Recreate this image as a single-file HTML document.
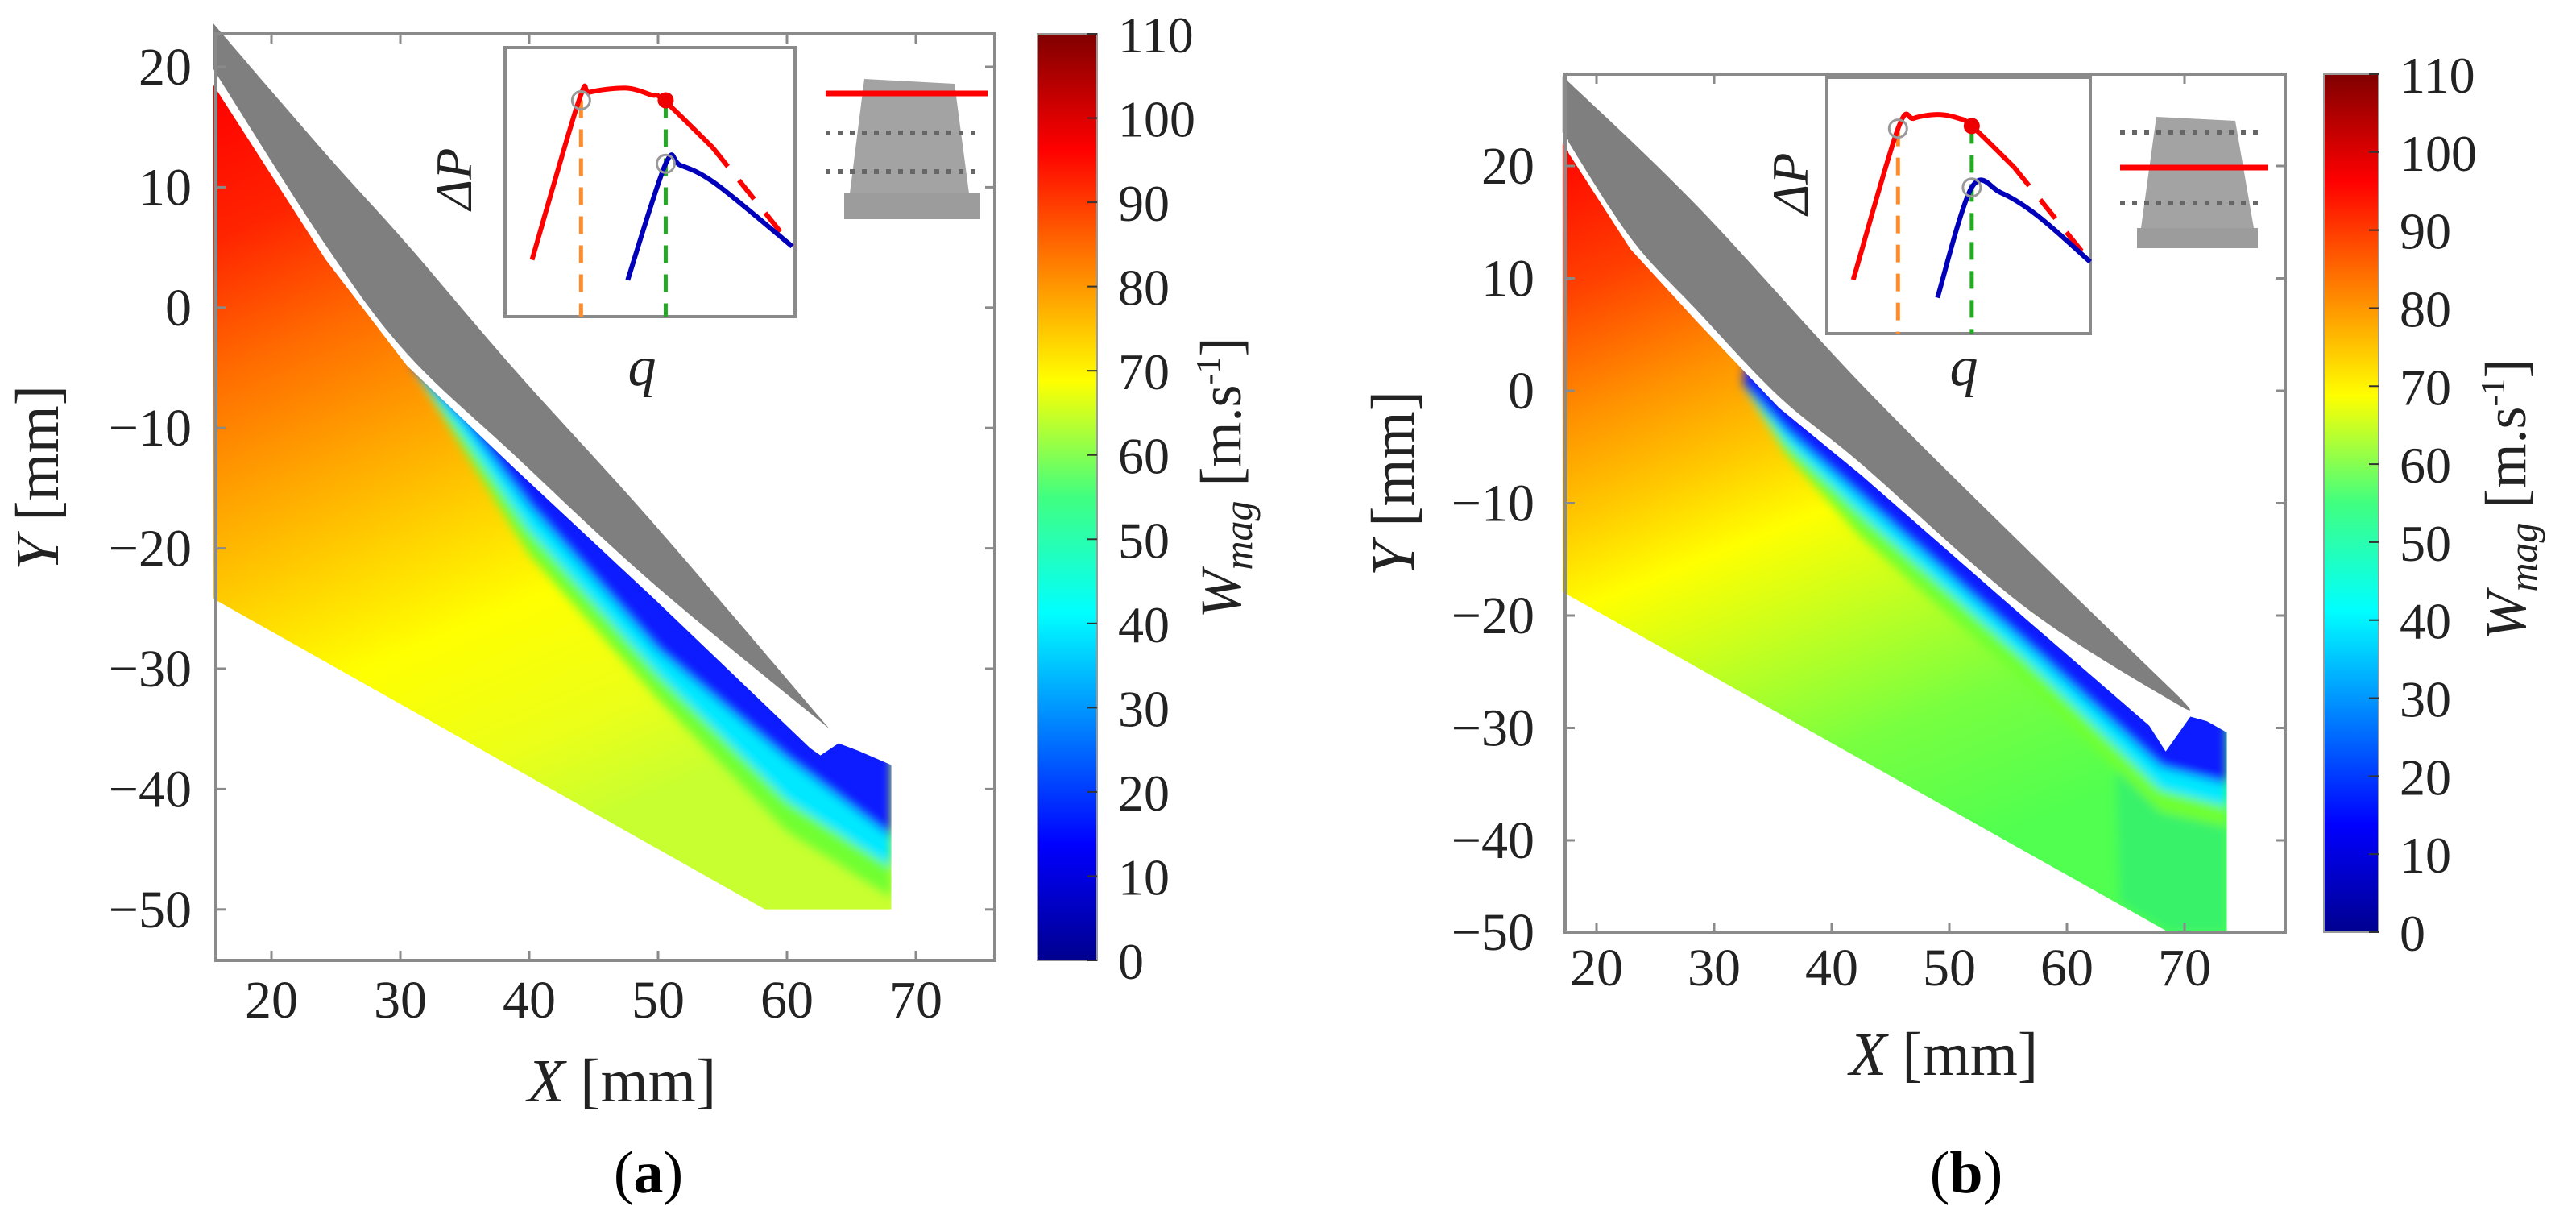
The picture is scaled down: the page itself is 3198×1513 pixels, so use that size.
<!DOCTYPE html>
<html><head><meta charset="utf-8"><style>
html,body{margin:0;padding:0;background:#fff}
svg{display:block}
svg text{font-family:"Liberation Serif","Times New Roman",serif}
</style></head><body>
<svg id="fig" width="3198" height="1513" viewBox="0 0 3198 1513" xmlns="http://www.w3.org/2000/svg" font-family="Liberation Serif, serif">
<defs>
<linearGradient id="jet" x1="0" y1="1" x2="0" y2="0">
<stop offset="0" stop-color="#00008f"/><stop offset="0.125" stop-color="#0000ff"/><stop offset="0.375" stop-color="#00ffff"/><stop offset="0.5" stop-color="#40ff80"/><stop offset="0.625" stop-color="#ffff00"/><stop offset="0.875" stop-color="#ff0000"/><stop offset="1" stop-color="#800000"/>
</linearGradient>
<filter id="blur" x="-20%" y="-20%" width="140%" height="140%"><feGaussianBlur stdDeviation="6"/></filter>
</defs>
</svg>
<script>
// ---- data arrays ----
const xTicksA=[20,30,40,50,60,70];
const yTicksA=[20,10,0,-10,-20,-30,-40,-50];
const xTicksB=[20,30,40,50,60,70];
const yTicksB=[20,10,0,-10,-20,-30,-40,-50];
const cbarTicks=[0,10,20,30,40,50,60,70,80,90,100,110];
// panel a geometry (mm)
const bladeUpperA=[[15.5,23.6],[24.2,12.8],[30.5,5.3],[38.9,-5.2],[49.7,-18],[63.3,-35]];
const bladeLowerA=[[63.3,-35],[49.7,-23],[38.9,-12.3],[30.5,-3.8],[24.2,5.2],[15.5,19.8]];
const fieldA=[[15.5,18.5],[24.2,4],[30.5,-4.8],[38.9,-13.4],[49.7,-24.2],[61.8,-36.6],[62.6,-37.2],[64,-36.2],[65.5,-36.8],[68.1,-38],[68.1,-50],[58.3,-50],[15.5,-24.2]];
const wakeXA=[31,35,40,50,60,68.1];
const wakeBlueA=[-5,-9.5,-16.5,-28.5,-37.5,-44];
const wakeCyanA=[-5,-10.8,-18.5,-30.5,-41,-46.5];
const wakeGreenA=[-5,-12,-20.5,-32.5,-43.5,-49];
// panel b geometry (mm)
const bladeUpperB=[[17.1,28],[28.5,16.5],[42.5,0.6],[56.5,-14],[69.8,-27.5]];
const bladeLowerB=[[69.8,-27.5],[69.4,-27.9],[56.5,-19.3],[42.5,-6.5],[35.5,-0.5],[28.5,7.2],[22.9,13.6],[17.1,23]];
const fieldB=[[17.1,22],[22.9,12.6],[28.5,6.2],[35.5,-1.5],[42.5,-7.5],[56.5,-20.3],[67,-29.8],[68.4,-32.1],[70.5,-29],[71.9,-29.4],[73.6,-30.4],[73.6,-48.2],[68.7,-48.2],[17.1,-17.9]];
const wakeXB=[32.5,36,42.5,56.5,68,73.6];
const wakeBlueB=[0.5,-3.5,-9.5,-22.5,-33.5,-35];
const wakeCyanB=[0.5,-4.5,-11,-24,-35.5,-37];
const wakeGreenB=[0.5,-5.5,-13,-26,-37.5,-38.8];
const greenZoneB=[[64,-27],[73.6,-30],[73.6,-48.2],[68.7,-48.2],[64.5,-45.5]];
// inset curves (fractions of inset box)
const insetRedA=[[0.093,0.789],[0.255,0.196],[0.293,0.166],[0.417,0.151],[0.504,0.176],[0.548,0.196],[0.716,0.372]];
const insetRedDashA=[[0.716,0.372],[0.99,0.739]];
const insetBlueA=[[0.423,0.864],[0.554,0.432],[0.604,0.437],[0.729,0.508],[0.99,0.739]];
const insetRedB=[[0.1,0.79],[0.27,0.2],[0.33,0.16],[0.42,0.145],[0.5,0.16],[0.55,0.19],[0.71,0.35]];
const insetRedDashB=[[0.71,0.35],[1.0,0.72]];
const insetBlueB=[[0.42,0.86],[0.55,0.43],[0.66,0.45],[0.8,0.54],[1.0,0.72]];

const NS="http://www.w3.org/2000/svg";
const svg=document.getElementById('fig');
function el(tag,attrs,parent){const e=document.createElementNS(NS,tag);for(const k in attrs)e.setAttribute(k,attrs[k]);if(tag==='text')e.setAttribute('font-family','Liberation Serif, serif');(parent||svg).appendChild(e);return e;}
function smooth(P){ // Catmull-Rom open path
  let d='M'+P[0][0].toFixed(1)+','+P[0][1].toFixed(1);
  for(let i=0;i<P.length-1;i++){
    const p0=P[Math.max(i-1,0)],p1=P[i],p2=P[i+1],p3=P[Math.min(i+2,P.length-1)];
    const c1=[p1[0]+(p2[0]-p0[0])/6,p1[1]+(p2[1]-p0[1])/6];
    const c2=[p2[0]-(p3[0]-p1[0])/6,p2[1]-(p3[1]-p1[1])/6];
    d+=' C'+c1.map(v=>v.toFixed(1)).join(',')+' '+c2.map(v=>v.toFixed(1)).join(',')+' '+p2[0].toFixed(1)+','+p2[1].toFixed(1);
  }
  return d;
}

function panel(cfg){
  const X=v=>cfg.px0+(v-cfg.xref)*cfg.sx;
  const Y=v=>cfg.py0+(cfg.yref-v)*cfg.sy;
  const pts=a=>a.map(p=>X(p[0]).toFixed(1)+','+Y(p[1]).toFixed(1)).join(' ');
  const PX=a=>a.map(p=>[X(p[0]),Y(p[1])]);
  const g=el('g',{});
  
  
  const defs=svg.querySelector('defs');
  const lg=el('linearGradient',{id:cfg.name+'bg',gradientUnits:'userSpaceOnUse',x1:X(cfg.gv[0]),y1:Y(cfg.gv[1]),x2:X(cfg.gv[2]),y2:Y(cfg.gv[3])},defs);
  cfg.stops.forEach(s=>el('stop',{offset:s[0],'stop-color':s[1]},lg));
  const cp=el('clipPath',{id:cfg.name+'clip'},defs);
  el('polygon',{points:pts(cfg.field)},cp);
  const fg=el('g',{'clip-path':'url(#'+cfg.name+'clip)'},g);
  
  
  el('polygon',{points:pts(cfg.field),fill:'url(#'+cfg.name+'bg)'},fg);
  const bl=el('g',{filter:'url(#blur)'},fg);
  if(cfg.extra){const z=el('polygon',{points:pts(cfg.extra),fill:'#38f26a'},bl);}
  const bands=[[cfg.wg,'#70ff30'],[cfg.wc,'#00e8ff'],[cfg.wb,'#0a1cff']];
  bands.forEach(b=>{
    const lower=cfg.wx.map((x,i)=>[x,b[0][i]]);
    const upper=cfg.wx.map((x,i)=>[x,b[0][i]+25]).reverse();
    upper[upper.length-1]=[cfg.wx[0],b[0][0]+0.5];
    const p=el('polygon',{points:pts(lower.concat(upper)),fill:b[1]},bl);
    
    
  });
  const up=PX(cfg.bu), lo=PX(cfg.bl);
  const bd=smooth(up)+' '+smooth(lo).replace(/^M/,'L')+' Z';
  const blade=el('path',{d:bd,fill:'#7f7f7f'},g);
  
  
  const bx=el('rect',{x:cfg.box[0],y:cfg.box[1],width:cfg.box[2]-cfg.box[0],height:cfg.box[3]-cfg.box[1],fill:'none',stroke:'#8a8a8a','stroke-width':4},g);
  
  
  cfg.xt.forEach(t=>{
    const x=X(t);
    el('line',{x1:x,x2:x,y1:cfg.box[3],y2:cfg.box[3]-12,stroke:'#8a8a8a','stroke-width':3},g);
    el('line',{x1:x,x2:x,y1:cfg.box[1],y2:cfg.box[1]+12,stroke:'#8a8a8a','stroke-width':3},g);
    const tx=el('text',{x:x,y:cfg.xlabY,'font-size':66,'text-anchor':'middle',fill:'#222'},g);
    
    
    tx.textContent=t;
  });
  cfg.yt.forEach(t=>{
    const y=Math.min(Y(t),cfg.box[3]);
    el('line',{x1:cfg.box[0],x2:cfg.box[0]+12,y1:y,y2:y,stroke:'#8a8a8a','stroke-width':3},g);
    el('line',{x1:cfg.box[2],x2:cfg.box[2]-12,y1:y,y2:y,stroke:'#8a8a8a','stroke-width':3},g);
    const tx=el('text',{x:cfg.ylabX,y:y+22,'font-size':66,'text-anchor':'end',fill:'#222'},g);
    
    
    tx.textContent=(t<0?'\u2212'+(-t):t);
  });
  const xt=el('text',{x:cfg.xTitle[0],y:cfg.xTitle[1],'font-size':76,'text-anchor':'middle',fill:'#222'},g);
  
  
  xt.innerHTML='<tspan font-style="italic">X</tspan> [mm]';
  const yt=el('text',{x:0,y:0,'font-size':76,'text-anchor':'middle',fill:'#222',transform:'translate('+cfg.yTitle[0]+','+cfg.yTitle[1]+') rotate(-90)'},g);
  
  
  yt.innerHTML='<tspan font-style="italic">Y</tspan> [mm]';
  const cb=cfg.cb;
  const cr=el('rect',{x:cb[0],y:cb[1],width:cb[2]-cb[0],height:cb[3]-cb[1],fill:'url(#jet)',stroke:'#999','stroke-width':2},g);
  
  
  const C=v=>cb[3]-(v/110)*(cb[3]-cb[1]);
  cbarTicks.forEach(t=>{
    const y=C(t);
    el('line',{x1:cb[2]-12,x2:cb[2],y1:y,y2:y,stroke:'#333','stroke-width':2},g);
    const tx=el('text',{x:cb[2]+26,y:y+23,'font-size':64,fill:'#222'},g);
    
    
    tx.textContent=t;
  });
  const ct=el('text',{x:0,y:0,'font-size':72,'text-anchor':'middle',fill:'#222',transform:'translate('+cfg.cTitle[0]+','+cfg.cTitle[1]+') rotate(-90)'},g);
  
  
  ct.innerHTML='<tspan font-style="italic">W</tspan><tspan font-style="italic" font-size="50" dy="14">mag</tspan><tspan dy="-14"> [m.s</tspan><tspan font-size="42" dy="-26">-1</tspan><tspan dy="26">]</tspan>';
  const ib=cfg.inset;const iw=ib[2]-ib[0],ih=ib[3]-ib[1];
  const IP=a=>a.map(p=>(ib[0]+p[0]*iw).toFixed(1)+','+(ib[1]+p[1]*ih).toFixed(1)).join(' ');
  const ig=el('g',{},g);
  
  
  el('rect',{x:ib[0],y:ib[1],width:iw,height:ih,fill:'#fff',stroke:'#8a8a8a','stroke-width':4},ig);
  const ox=ib[0]+cfg.iv[0]*iw, gx=ib[0]+cfg.iv[1]*iw;
  el('line',{x1:ox,x2:ox,y1:ib[1]+cfg.ir[1][1]*ih,y2:ib[3],stroke:'#ff8c2a','stroke-width':5,'stroke-dasharray':'22 14'},ig);
  el('line',{x1:gx,x2:gx,y1:ib[1]+cfg.ir[5][1]*ih,y2:ib[3],stroke:'#22aa22','stroke-width':5,'stroke-dasharray':'22 14'},ig);
  el('path',{d:smooth(cfg.ir.map(p=>[ib[0]+p[0]*iw,ib[1]+p[1]*ih])),fill:'none',stroke:'#ff0000','stroke-width':6},ig);
  el('polyline',{points:IP(cfg.ird),fill:'none',stroke:'#ff0000','stroke-width':6,'stroke-dasharray':'30 22'},ig);
  el('path',{d:smooth(cfg.ibl.map(p=>[ib[0]+p[0]*iw,ib[1]+p[1]*ih])),fill:'none',stroke:'#0000bb','stroke-width':6},ig);
  el('circle',{cx:ox,cy:ib[1]+cfg.ir[1][1]*ih,r:11,fill:'none',stroke:'#999','stroke-width':3},ig);
  el('circle',{cx:gx,cy:ib[1]+cfg.ibl[1][1]*ih,r:11,fill:'none',stroke:'#999','stroke-width':3},ig);
  el('circle',{cx:gx,cy:ib[1]+cfg.ir[5][1]*ih,r:10,fill:'#ee0000'},ig);
  const dp=el('text',{x:0,y:0,'font-size':64,'font-style':'italic','text-anchor':'middle',fill:'#222',transform:'translate('+cfg.dp[0]+','+cfg.dp[1]+') rotate(-90)'},ig);
  
  
  dp.textContent='\u0394P';
  const q=el('text',{x:cfg.q[0],y:cfg.q[1],'font-size':70,'font-style':'italic','text-anchor':'middle',fill:'#222'},ig);
  
  
  q.textContent='q';
  const s=cfg.sch;
  const sg=el('g',{},g);
  
  
  el('polygon',{points:s.body.map(p=>p.join(',')).join(' '),fill:'#a3a3a3'},sg);
  el('rect',{x:s.base[0],y:s.base[1],width:s.base[2]-s.base[0],height:s.base[3]-s.base[1],fill:'#9c9c9c'},sg);
  s.dots.forEach(y=>el('line',{x1:s.lx[0],x2:s.lx[1],y1:y,y2:y,stroke:'#666','stroke-width':6,'stroke-dasharray':'6 9'},sg));
  el('line',{x1:s.lx[0],x2:s.lx[1]+8,y1:s.red,y2:s.red,stroke:'#ff0000','stroke-width':7},sg);
  const pl=el('text',{x:cfg.letter[0],y:cfg.letter[1],'font-size':74,'text-anchor':'middle',fill:'#000'},g);
  
  
  pl.innerHTML='(<tspan font-weight="bold">'+cfg.name+'</tspan>)';
}

panel({name:'a',px0:337,xref:20,sx:16,py0:83,yref:20,sy:14.94,box:[268,42,1235,1192],
  field:fieldA,bu:bladeUpperA,bl:bladeLowerA,wx:wakeXA,wb:wakeBlueA,wc:wakeCyanA,wg:wakeGreenA,
  gv:[15,18,40,-45],stops:[[0,'#ff0000'],[0.17,'#ff2400'],[0.32,'#ff6a00'],[0.47,'#ffa400'],[0.6,'#ffd400'],[0.72,'#ffff00'],[0.88,'#ecff18'],[1,'#c8ff30']],
  xt:xTicksA,yt:yTicksA,xlabY:1263,ylabX:238,xTitle:[772,1367],yTitle:[72,593],
  cb:[1288,42,1362,1192],cTitle:[1540,593],
  inset:[627,59,987,393],iv:[0.262,0.554],ir:insetRedA,ird:insetRedDashA,ibl:insetBlueA,dp:[585,222],q:[797,478],
  sch:{body:[[1073,98],[1185,104],[1203,240],[1055,240]],base:[1048,240,1217,272],dots:[165,213],lx:[1025,1218],red:116},
  letter:[805,1480]});

panel({name:'b',px0:1982,xref:20,sx:14.6,py0:1043,yref:-40,sy:13.95,box:[1943,92,2837,1157],
  field:fieldB,bu:bladeUpperB,bl:bladeLowerB,wx:wakeXB,wb:wakeBlueB,wc:wakeCyanB,wg:wakeGreenB,extra:greenZoneB,
  gv:[17,20,42,-45],stops:[[0,'#ff0a00'],[0.15,'#ff4000'],[0.3,'#ff9000'],[0.43,'#ffcc00'],[0.53,'#ffff00'],[0.66,'#c4ff20'],[0.82,'#78ff40'],[1,'#50ff50']],
  xt:xTicksB,yt:yTicksB,xlabY:1223,ylabX:1905,xTitle:[2413,1334],yTitle:[1755,600],
  cb:[2885,92,2953,1157],cTitle:[3135,620],
  inset:[2268,96,2595,414],iv:[0.27,0.55],ir:insetRedB,ird:insetRedDashB,ibl:insetBlueB,dp:[2244,228],q:[2438,478],
  sch:{body:[[2677,145],[2775,150],[2798,283],[2658,283]],base:[2653,283,2803,308],dots:[164,252],lx:[2632,2808],red:208},
  letter:[2441,1480]});
</script>
</body></html>
